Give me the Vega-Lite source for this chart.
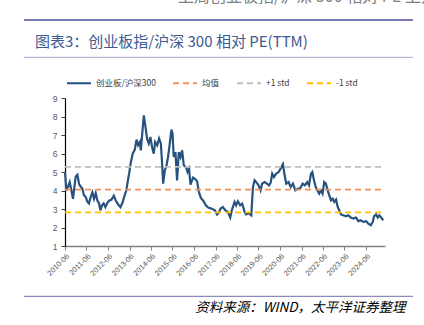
{
  "$schema": "https://vega.github.io/schema/vega-lite/v6.json",
  "width": 320,
  "height": 148,
  "autosize": {"type": "none"},
  "padding": {"left": 65, "top": 98, "right": 39, "bottom": 79},
  "background": "white",
  "config": {"view": {"stroke": null}},
  "datasets": {
    "pe": [
      {"date": "2010-06-01", "value": 5.0},
      {"date": "2010-06-24", "value": 4.0},
      {"date": "2010-07-21", "value": 4.2},
      {"date": "2010-08-20", "value": 4.45},
      {"date": "2010-09-18", "value": 4.0},
      {"date": "2010-10-15", "value": 3.55},
      {"date": "2010-11-08", "value": 4.2},
      {"date": "2010-11-30", "value": 4.75},
      {"date": "2010-12-29", "value": 4.85},
      {"date": "2011-01-26", "value": 4.35},
      {"date": "2011-02-24", "value": 4.2},
      {"date": "2011-03-23", "value": 4.1},
      {"date": "2011-04-19", "value": 3.75},
      {"date": "2011-05-18", "value": 3.65},
      {"date": "2011-06-16", "value": 3.4},
      {"date": "2011-07-13", "value": 3.3},
      {"date": "2011-08-11", "value": 3.65},
      {"date": "2011-09-10", "value": 3.9},
      {"date": "2011-10-07", "value": 3.55},
      {"date": "2011-11-05", "value": 3.85},
      {"date": "2011-12-04", "value": 3.45},
      {"date": "2012-01-01", "value": 3.3},
      {"date": "2012-01-24", "value": 2.93},
      {"date": "2012-02-20", "value": 3.2},
      {"date": "2012-03-19", "value": 3.3},
      {"date": "2012-04-18", "value": 3.1},
      {"date": "2012-05-15", "value": 3.3},
      {"date": "2012-06-18", "value": 3.45},
      {"date": "2012-07-28", "value": 3.5},
      {"date": "2012-09-07", "value": 3.72},
      {"date": "2012-10-11", "value": 3.45},
      {"date": "2012-11-19", "value": 3.25},
      {"date": "2012-12-29", "value": 3.1},
      {"date": "2013-02-03", "value": 3.35},
      {"date": "2013-03-11", "value": 3.75},
      {"date": "2013-04-07", "value": 4.0},
      {"date": "2013-05-02", "value": 4.5},
      {"date": "2013-05-27", "value": 4.95},
      {"date": "2013-06-22", "value": 5.5},
      {"date": "2013-07-26", "value": 6.0},
      {"date": "2013-08-29", "value": 6.2},
      {"date": "2013-09-28", "value": 6.75},
      {"date": "2013-10-24", "value": 6.45},
      {"date": "2013-11-23", "value": 6.62},
      {"date": "2013-12-10", "value": 6.17},
      {"date": "2014-01-08", "value": 7.25},
      {"date": "2014-01-30", "value": 8.06},
      {"date": "2014-02-28", "value": 7.43},
      {"date": "2014-03-25", "value": 6.81},
      {"date": "2014-04-24", "value": 6.54},
      {"date": "2014-05-22", "value": 6.89},
      {"date": "2014-06-19", "value": 6.35},
      {"date": "2014-07-18", "value": 5.99},
      {"date": "2014-08-09", "value": 6.62},
      {"date": "2014-09-13", "value": 6.44},
      {"date": "2014-10-16", "value": 6.81},
      {"date": "2014-11-15", "value": 6.54},
      {"date": "2014-12-07", "value": 5.45},
      {"date": "2014-12-24", "value": 4.37},
      {"date": "2015-01-22", "value": 5.09},
      {"date": "2015-02-20", "value": 5.36},
      {"date": "2015-03-17", "value": 5.81},
      {"date": "2015-04-16", "value": 6.54},
      {"date": "2015-05-14", "value": 7.29},
      {"date": "2015-06-01", "value": 7.1},
      {"date": "2015-06-23", "value": 5.81},
      {"date": "2015-07-21", "value": 6.08},
      {"date": "2015-08-18", "value": 4.55},
      {"date": "2015-09-16", "value": 6.08},
      {"date": "2015-10-15", "value": 5.81},
      {"date": "2015-11-12", "value": 6.17},
      {"date": "2015-12-10", "value": 5.36},
      {"date": "2016-01-14", "value": 5.27},
      {"date": "2016-02-12", "value": 5.0},
      {"date": "2016-03-09", "value": 5.18},
      {"date": "2016-04-02", "value": 4.32},
      {"date": "2016-05-16", "value": 4.7},
      {"date": "2016-06-26", "value": 4.6},
      {"date": "2016-07-23", "value": 4.5},
      {"date": "2016-08-22", "value": 3.92},
      {"date": "2016-09-25", "value": 3.6},
      {"date": "2016-11-04", "value": 3.45},
      {"date": "2016-12-19", "value": 3.2},
      {"date": "2017-01-28", "value": 3.08},
      {"date": "2017-03-25", "value": 3.02},
      {"date": "2017-05-20", "value": 2.93},
      {"date": "2017-06-28", "value": 2.7},
      {"date": "2017-08-02", "value": 2.84},
      {"date": "2017-08-25", "value": 3.02},
      {"date": "2017-10-04", "value": 3.11},
      {"date": "2017-11-12", "value": 2.93},
      {"date": "2017-12-28", "value": 2.84},
      {"date": "2018-02-06", "value": 2.54},
      {"date": "2018-03-05", "value": 2.93},
      {"date": "2018-04-20", "value": 3.38},
      {"date": "2018-05-17", "value": 3.2},
      {"date": "2018-06-16", "value": 3.42},
      {"date": "2018-07-24", "value": 3.2},
      {"date": "2018-08-28", "value": 3.29},
      {"date": "2018-10-08", "value": 2.84},
      {"date": "2018-11-05", "value": 2.71},
      {"date": "2018-12-15", "value": 2.78},
      {"date": "2019-01-29", "value": 2.66},
      {"date": "2019-02-27", "value": 4.19},
      {"date": "2019-03-26", "value": 4.55},
      {"date": "2019-04-22", "value": 4.46},
      {"date": "2019-06-02", "value": 4.28},
      {"date": "2019-07-06", "value": 4.01},
      {"date": "2019-08-02", "value": 4.37},
      {"date": "2019-09-13", "value": 4.46},
      {"date": "2019-10-22", "value": 4.37},
      {"date": "2019-11-25", "value": 4.28},
      {"date": "2019-12-24", "value": 4.41},
      {"date": "2020-01-20", "value": 4.91},
      {"date": "2020-02-19", "value": 4.73},
      {"date": "2020-03-27", "value": 4.91},
      {"date": "2020-05-08", "value": 5.0},
      {"date": "2020-06-11", "value": 5.18},
      {"date": "2020-07-20", "value": 5.42},
      {"date": "2020-08-18", "value": 4.82},
      {"date": "2020-09-15", "value": 4.37},
      {"date": "2020-10-25", "value": 4.46},
      {"date": "2020-11-29", "value": 4.19},
      {"date": "2021-01-07", "value": 4.37},
      {"date": "2021-02-16", "value": 4.01},
      {"date": "2021-04-01", "value": 4.1},
      {"date": "2021-05-05", "value": 4.1},
      {"date": "2021-06-20", "value": 4.37},
      {"date": "2021-07-28", "value": 4.28},
      {"date": "2021-09-07", "value": 4.46},
      {"date": "2021-10-06", "value": 4.28},
      {"date": "2021-11-09", "value": 4.91},
      {"date": "2021-12-01", "value": 5.0},
      {"date": "2021-12-30", "value": 4.55},
      {"date": "2022-01-28", "value": 4.19},
      {"date": "2022-02-24", "value": 4.01},
      {"date": "2022-03-28", "value": 3.83},
      {"date": "2022-04-26", "value": 4.01},
      {"date": "2022-05-25", "value": 3.83},
      {"date": "2022-06-21", "value": 4.46},
      {"date": "2022-07-20", "value": 4.37},
      {"date": "2022-08-19", "value": 4.01},
      {"date": "2022-09-15", "value": 3.74},
      {"date": "2022-10-14", "value": 3.47},
      {"date": "2022-11-12", "value": 3.56},
      {"date": "2022-12-09", "value": 3.38},
      {"date": "2023-01-08", "value": 3.51},
      {"date": "2023-02-06", "value": 3.11},
      {"date": "2023-03-03", "value": 2.93},
      {"date": "2023-04-01", "value": 2.71},
      {"date": "2023-05-10", "value": 2.66},
      {"date": "2023-06-25", "value": 2.61},
      {"date": "2023-08-04", "value": 2.66},
      {"date": "2023-09-14", "value": 2.54},
      {"date": "2023-10-28", "value": 2.48},
      {"date": "2023-12-13", "value": 2.54},
      {"date": "2024-01-22", "value": 2.34},
      {"date": "2024-03-02", "value": 2.39},
      {"date": "2024-04-16", "value": 2.3},
      {"date": "2024-06-01", "value": 2.34},
      {"date": "2024-07-09", "value": 2.21},
      {"date": "2024-08-20", "value": 2.12},
      {"date": "2024-09-23", "value": 2.3},
      {"date": "2024-10-15", "value": 2.61},
      {"date": "2024-11-18", "value": 2.71},
      {"date": "2024-12-17", "value": 2.54},
      {"date": "2025-01-13", "value": 2.66},
      {"date": "2025-02-12", "value": 2.54},
      {"date": "2025-03-21", "value": 2.39}
    ],
    "ref": [
      {"series": "均值", "date": "2010-06-01", "value": 4.05},
      {"series": "均值", "date": "2025-04-19", "value": 4.05},
      {"series": "+1 std", "date": "2010-06-01", "value": 5.28},
      {"series": "+1 std", "date": "2025-04-19", "value": 5.28},
      {"series": "-1 std", "date": "2010-06-01", "value": 2.82},
      {"series": "-1 std", "date": "2025-04-19", "value": 2.82}
    ]
  },
  "layer": [
    {
      "encoding": {
        "x": {
          "field": "date",
          "type": "temporal",
          "scale": {"domain": ["2010-06-01", "2025-04-19"], "nice": false},
          "axis": {
            "values": [
              {"year": 2010, "month": 6, "date": 1},
              {"year": 2011, "month": 6, "date": 1},
              {"year": 2012, "month": 6, "date": 1},
              {"year": 2013, "month": 6, "date": 1},
              {"year": 2014, "month": 6, "date": 1},
              {"year": 2015, "month": 6, "date": 1},
              {"year": 2016, "month": 6, "date": 1},
              {"year": 2017, "month": 6, "date": 1},
              {"year": 2018, "month": 6, "date": 1},
              {"year": 2019, "month": 6, "date": 1},
              {"year": 2020, "month": 6, "date": 1},
              {"year": 2021, "month": 6, "date": 1},
              {"year": 2022, "month": 6, "date": 1},
              {"year": 2023, "month": 6, "date": 1},
              {"year": 2024, "month": 6, "date": 1}
            ],
            "format": "%Y-%m",
            "labelAngle": -45,
            "labelOverlap": false,
            "labelFont": "Liberation Sans",
            "labelFontSize": 7.5,
            "labelColor": "#595959",
            "labelPadding": 2,
            "tickSize": 4,
            "tickColor": "#808080",
            "domainColor": "#808080",
            "domainWidth": 1.5,
            "grid": false,
            "title": "资料来源：WIND，太平洋证券整理",
            "titleFont": "Noto Sans CJK SC",
            "titleFontSize": 13.5,
            "titleFontStyle": "italic",
            "titleFontWeight": "normal",
            "titleColor": "#000000",
            "titleAnchor": "end",
            "titleAlign": "right",
            "titleBaseline": "middle",
            "titleX": 340,
            "titleY": 61
          }
        },
        "y": {
          "field": "value",
          "type": "quantitative",
          "scale": {"domain": [1, 9], "nice": false, "zero": false},
          "axis": {
            "values": [1, 2, 3, 4, 5, 6, 7, 8, 9],
            "title": null,
            "grid": false,
            "labelFont": "Liberation Sans",
            "labelFontSize": 8.5,
            "labelColor": "#595959",
            "labelPadding": 4,
            "tickSize": 4,
            "tickColor": "#404040",
            "domainColor": "#000000",
            "domainWidth": 1.2
          }
        }
      },
      "layer": [
        {
          "data": {"name": "pe"},
          "mark": {"type": "line", "strokeWidth": 2.2},
          "encoding": {
            "color": {"datum": "创业板/沪深300"},
            "strokeDash": {"datum": "创业板/沪深300"}
          }
        },
        {
          "data": {"name": "ref"},
          "mark": {"type": "line", "strokeWidth": 1.8},
          "encoding": {
            "color": {
              "field": "series",
              "type": "nominal",
              "scale": {
                "domain": ["创业板/沪深300", "均值", "+1 std", "-1 std"],
                "range": ["#27527F", "#F2905C", "#BFBFBF", "#FFC000"]
              },
              "legend": {
                "orient": "none",
                "legendX": 1,
                "legendY": -28,
                "direction": "horizontal",
                "columns": 4,
                "title": null,
                "symbolType": "stroke",
                "symbolSize": 576,
                "symbolStrokeWidth": 2,
                "labelFont": "Noto Sans CJK SC",
                "labelFontSize": 8.5,
                "labelColor": "#404040",
                "labelOffset": 4,
                "columnPadding": 13
              }
            },
            "strokeDash": {
              "field": "series",
              "type": "nominal",
              "scale": {
                "domain": ["创业板/沪深300", "均值", "+1 std", "-1 std"],
                "range": [[1, 0], [6, 4], [6, 4], [6, 4]]
              },
              "legend": {
                "orient": "none",
                "legendX": 1,
                "legendY": -28,
                "direction": "horizontal",
                "columns": 4,
                "title": null,
                "symbolType": "stroke",
                "symbolSize": 576,
                "symbolStrokeWidth": 2,
                "labelFont": "Noto Sans CJK SC",
                "labelFontSize": 8.5,
                "labelColor": "#404040",
                "labelOffset": 4,
                "columnPadding": 13
              }
            }
          }
        }
      ]
    },
    {
      "data": {"values": [{}]},
      "encoding": {
        "x": {"datum": 0.0566, "type": "quantitative", "scale": {"domain": [0, 1], "range": [-65, 359], "nice": false, "zero": false}, "axis": null},
        "x2": {"datum": 0.974}
      },
      "layer": [
        {
          "mark": {"type": "rule", "stroke": "#7B7BB3", "strokeWidth": 2},
          "encoding": {"y": {"datum": 0.0615, "type": "quantitative", "scale": {"domain": [0, 1], "range": [-98, 227], "nice": false, "zero": false}, "axis": null}}
        },
        {
          "mark": {"type": "rule", "stroke": "#A3A3CC", "strokeWidth": 1},
          "encoding": {"y": {"datum": 0.1763, "type": "quantitative", "axis": null}}
        },
        {
          "mark": {"type": "rule", "stroke": "#8A8AC0", "strokeWidth": 1.3},
          "encoding": {"y": {"datum": 0.9117, "type": "quantitative", "axis": null}}
        },
        {
          "mark": {"type": "text", "align": "left", "baseline": "alphabetic", "font": "Noto Sans CJK SC", "fontSize": 16, "color": "#7F7F7F", "clip": false},
          "encoding": {
            "x": {"datum": 0.42, "type": "quantitative", "axis": null},
            "x2": null,
            "y": {"datum": 0.006, "type": "quantitative", "axis": null},
            "text": {"value": "上周创业板指/沪深 300 相对 PE 上升"}
          }
        },
        {
          "mark": {"type": "text", "align": "left", "baseline": "middle", "font": "Noto Sans CJK SC", "fontSize": 15, "color": "#3B5B92", "clip": false},
          "encoding": {
            "x": {"datum": 0.0825, "type": "quantitative", "axis": null},
            "x2": null,
            "y": {"datum": 0.1292, "type": "quantitative", "axis": null},
            "text": {"value": "图表3：创业板指/沪深 300 相对 PE(TTM)"}
          }
        }
      ]
    }
  ],
  "resolve": {"scale": {"x": "independent", "y": "independent"}}
}
